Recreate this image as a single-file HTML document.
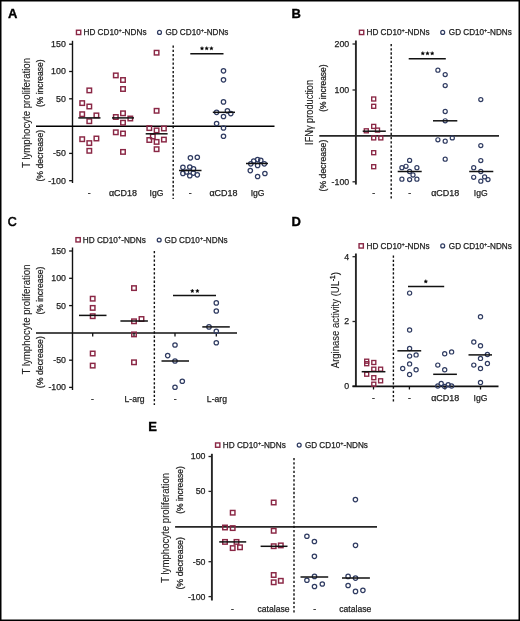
<!DOCTYPE html>
<html><head><meta charset="utf-8"><title>Figure</title>
<style>
html,body{margin:0;padding:0;background:#fff;}
body{width:520px;height:621px;overflow:hidden;}
svg{display:block;font-family:"Liberation Sans", sans-serif;will-change:transform;}
</style></head>
<body>
<svg width="520" height="621" viewBox="0 0 520 621">
<rect width="520" height="621" fill="#fff"/>
<rect x="0.75" y="0.75" width="518.5" height="619.5" fill="none" stroke="#000" stroke-width="1.5"/>
<text x="8" y="18.4" font-size="13" font-weight="bold" fill="#000" stroke="#000" stroke-width="0.35" >A</text>
<rect x="76.45" y="30.25" width="4.3" height="4.3" fill="none" stroke="#8a2745" stroke-width="1.4"/>
<text x="83.5" y="35.2" font-size="8.2" textLength="63" lengthAdjust="spacingAndGlyphs" fill="#222" stroke="#222" stroke-width="0.25" >HD CD10<tspan font-size="5.6" dy="-3.2">+</tspan><tspan dy="3.2">-NDNs</tspan></text>
<circle cx="159.5" cy="32.4" r="1.95" fill="none" stroke="#303c62" stroke-width="1.25"/>
<text x="165.4" y="35.2" font-size="8.2" textLength="63" lengthAdjust="spacingAndGlyphs" fill="#222" stroke="#222" stroke-width="0.25" >GD CD10<tspan font-size="5.6" dy="-3.2">+</tspan><tspan dy="3.2">-NDNs</tspan></text>
<line x1="72.5" y1="40.8" x2="72.5" y2="183" stroke="#111" stroke-width="1.4" />
<line x1="69.1" y1="44.2" x2="72.5" y2="44.2" stroke="#111" stroke-width="1.3" />
<text x="65.8" y="47.1" font-size="8.8" text-anchor="end" fill="#222" stroke="#222" stroke-width="0.25" >150</text>
<line x1="69.1" y1="71.5" x2="72.5" y2="71.5" stroke="#111" stroke-width="1.3" />
<text x="65.8" y="74.4" font-size="8.8" text-anchor="end" fill="#222" stroke="#222" stroke-width="0.25" >100</text>
<line x1="69.1" y1="98.8" x2="72.5" y2="98.8" stroke="#111" stroke-width="1.3" />
<text x="65.8" y="101.7" font-size="8.8" text-anchor="end" fill="#222" stroke="#222" stroke-width="0.25" >50</text>
<line x1="69.1" y1="153.4" x2="72.5" y2="153.4" stroke="#111" stroke-width="1.3" />
<text x="65.8" y="156.3" font-size="8.8" text-anchor="end" fill="#222" stroke="#222" stroke-width="0.25" >-50</text>
<line x1="69.1" y1="180.7" x2="72.5" y2="180.7" stroke="#111" stroke-width="1.3" />
<text x="65.8" y="183.6" font-size="8.8" text-anchor="end" fill="#222" stroke="#222" stroke-width="0.25" >-100</text>
<line x1="36" y1="126.25" x2="274.5" y2="126.25" stroke="#000" stroke-width="1.4" />
<line x1="173.2" y1="45.5" x2="173.2" y2="199" stroke="#111" stroke-width="1.4" stroke-dasharray="2.3 1.93"/>
<rect x="87.05" y="88.15" width="4.5" height="4.5" fill="none" stroke="#8a2745" stroke-width="1.45"/>
<rect x="79.95" y="100.85" width="4.5" height="4.5" fill="none" stroke="#8a2745" stroke-width="1.45"/>
<rect x="87.05" y="104.25" width="4.5" height="4.5" fill="none" stroke="#8a2745" stroke-width="1.45"/>
<rect x="79.95" y="111.95" width="4.5" height="4.5" fill="none" stroke="#8a2745" stroke-width="1.45"/>
<rect x="94.15" y="113.15" width="4.5" height="4.5" fill="none" stroke="#8a2745" stroke-width="1.45"/>
<rect x="87.05" y="118.95" width="4.5" height="4.5" fill="none" stroke="#8a2745" stroke-width="1.45"/>
<rect x="79.95" y="136.95" width="4.5" height="4.5" fill="none" stroke="#8a2745" stroke-width="1.45"/>
<rect x="94.15" y="136.25" width="4.5" height="4.5" fill="none" stroke="#8a2745" stroke-width="1.45"/>
<rect x="87.05" y="140.85" width="4.5" height="4.5" fill="none" stroke="#8a2745" stroke-width="1.45"/>
<rect x="87.05" y="148.55" width="4.5" height="4.5" fill="none" stroke="#8a2745" stroke-width="1.45"/>
<rect x="113.55" y="73.15" width="4.5" height="4.5" fill="none" stroke="#8a2745" stroke-width="1.45"/>
<rect x="120.75" y="77.75" width="4.5" height="4.5" fill="none" stroke="#8a2745" stroke-width="1.45"/>
<rect x="120.75" y="86.75" width="4.5" height="4.5" fill="none" stroke="#8a2745" stroke-width="1.45"/>
<rect x="120.75" y="111.05" width="4.5" height="4.5" fill="none" stroke="#8a2745" stroke-width="1.45"/>
<rect x="113.55" y="114.75" width="4.5" height="4.5" fill="none" stroke="#8a2745" stroke-width="1.45"/>
<rect x="128.05" y="116.25" width="4.5" height="4.5" fill="none" stroke="#8a2745" stroke-width="1.45"/>
<rect x="120.75" y="120.45" width="4.5" height="4.5" fill="none" stroke="#8a2745" stroke-width="1.45"/>
<rect x="113.55" y="130.05" width="4.5" height="4.5" fill="none" stroke="#8a2745" stroke-width="1.45"/>
<rect x="120.75" y="131.25" width="4.5" height="4.5" fill="none" stroke="#8a2745" stroke-width="1.45"/>
<rect x="120.75" y="149.65" width="4.5" height="4.5" fill="none" stroke="#8a2745" stroke-width="1.45"/>
<rect x="154.35" y="50.45" width="4.5" height="4.5" fill="none" stroke="#8a2745" stroke-width="1.45"/>
<rect x="154.35" y="108.55" width="4.5" height="4.5" fill="none" stroke="#8a2745" stroke-width="1.45"/>
<rect x="147.05" y="125.85" width="4.5" height="4.5" fill="none" stroke="#8a2745" stroke-width="1.45"/>
<rect x="154.35" y="128.15" width="4.5" height="4.5" fill="none" stroke="#8a2745" stroke-width="1.45"/>
<rect x="161.65" y="126.25" width="4.5" height="4.5" fill="none" stroke="#8a2745" stroke-width="1.45"/>
<rect x="150.55" y="134.25" width="4.5" height="4.5" fill="none" stroke="#8a2745" stroke-width="1.45"/>
<rect x="147.05" y="137.75" width="4.5" height="4.5" fill="none" stroke="#8a2745" stroke-width="1.45"/>
<rect x="154.35" y="139.65" width="4.5" height="4.5" fill="none" stroke="#8a2745" stroke-width="1.45"/>
<rect x="161.65" y="137.35" width="4.5" height="4.5" fill="none" stroke="#8a2745" stroke-width="1.45"/>
<rect x="154.35" y="146.95" width="4.5" height="4.5" fill="none" stroke="#8a2745" stroke-width="1.45"/>
<circle cx="190.4" cy="157.8" r="2.2" fill="none" stroke="#303c62" stroke-width="1.25"/>
<circle cx="197.3" cy="157.2" r="2.2" fill="none" stroke="#303c62" stroke-width="1.25"/>
<circle cx="182.9" cy="167.3" r="2.2" fill="none" stroke="#303c62" stroke-width="1.25"/>
<circle cx="189.8" cy="167" r="2.2" fill="none" stroke="#303c62" stroke-width="1.25"/>
<circle cx="193.5" cy="168.8" r="2.2" fill="none" stroke="#303c62" stroke-width="1.25"/>
<circle cx="182.9" cy="173.4" r="2.2" fill="none" stroke="#303c62" stroke-width="1.25"/>
<circle cx="189.8" cy="175.7" r="2.2" fill="none" stroke="#303c62" stroke-width="1.25"/>
<circle cx="193.3" cy="173.1" r="2.2" fill="none" stroke="#303c62" stroke-width="1.25"/>
<circle cx="197.3" cy="174.8" r="2.2" fill="none" stroke="#303c62" stroke-width="1.25"/>
<circle cx="186.5" cy="172" r="2.2" fill="none" stroke="#303c62" stroke-width="1.25"/>
<circle cx="223.5" cy="70.8" r="2.2" fill="none" stroke="#303c62" stroke-width="1.25"/>
<circle cx="223.5" cy="79.8" r="2.2" fill="none" stroke="#303c62" stroke-width="1.25"/>
<circle cx="223.5" cy="101.9" r="2.2" fill="none" stroke="#303c62" stroke-width="1.25"/>
<circle cx="216.6" cy="112.3" r="2.2" fill="none" stroke="#303c62" stroke-width="1.25"/>
<circle cx="227.4" cy="110.8" r="2.2" fill="none" stroke="#303c62" stroke-width="1.25"/>
<circle cx="230.8" cy="113.6" r="2.2" fill="none" stroke="#303c62" stroke-width="1.25"/>
<circle cx="223.5" cy="116.5" r="2.2" fill="none" stroke="#303c62" stroke-width="1.25"/>
<circle cx="216.6" cy="123.5" r="2.2" fill="none" stroke="#303c62" stroke-width="1.25"/>
<circle cx="223.5" cy="128" r="2.2" fill="none" stroke="#303c62" stroke-width="1.25"/>
<circle cx="223.5" cy="136.2" r="2.2" fill="none" stroke="#303c62" stroke-width="1.25"/>
<circle cx="257.6" cy="159.6" r="2.2" fill="none" stroke="#303c62" stroke-width="1.25"/>
<circle cx="253.7" cy="161" r="2.2" fill="none" stroke="#303c62" stroke-width="1.25"/>
<circle cx="260.8" cy="160.4" r="2.2" fill="none" stroke="#303c62" stroke-width="1.25"/>
<circle cx="250.8" cy="163.8" r="2.2" fill="none" stroke="#303c62" stroke-width="1.25"/>
<circle cx="257.6" cy="165.4" r="2.2" fill="none" stroke="#303c62" stroke-width="1.25"/>
<circle cx="264.3" cy="163.8" r="2.2" fill="none" stroke="#303c62" stroke-width="1.25"/>
<circle cx="250.3" cy="170.6" r="2.2" fill="none" stroke="#303c62" stroke-width="1.25"/>
<circle cx="264.9" cy="173.5" r="2.2" fill="none" stroke="#303c62" stroke-width="1.25"/>
<circle cx="257.6" cy="176.5" r="2.2" fill="none" stroke="#303c62" stroke-width="1.25"/>
<line x1="78.3" y1="117.9" x2="100.5" y2="117.9" stroke="#111" stroke-width="1.5" />
<line x1="112" y1="117.9" x2="134" y2="117.9" stroke="#111" stroke-width="1.5" />
<line x1="145.7" y1="133.8" x2="167.6" y2="133.8" stroke="#111" stroke-width="1.5" />
<line x1="179" y1="170.5" x2="201.5" y2="170.5" stroke="#111" stroke-width="1.5" />
<line x1="212.8" y1="112.3" x2="235" y2="112.3" stroke="#111" stroke-width="1.5" />
<line x1="246" y1="163.5" x2="268" y2="163.5" stroke="#111" stroke-width="1.5" />
<line x1="190.3" y1="53.8" x2="223.5" y2="53.8" stroke="#111" stroke-width="1.5" />
<polygon points="202,46.5 202.56,47.63 203.81,47.81 202.9,48.69 203.12,49.94 202,49.35 200.88,49.94 201.1,48.69 200.19,47.81 201.44,47.63" fill="#000" stroke="#000" stroke-width="0.35" stroke-linejoin="round"/>
<polygon points="206.7,46.5 207.26,47.63 208.51,47.81 207.6,48.69 207.82,49.94 206.7,49.35 205.58,49.94 205.8,48.69 204.89,47.81 206.14,47.63" fill="#000" stroke="#000" stroke-width="0.35" stroke-linejoin="round"/>
<polygon points="211.4,46.5 211.96,47.63 213.21,47.81 212.3,48.69 212.52,49.94 211.4,49.35 210.28,49.94 210.5,48.69 209.59,47.81 210.84,47.63" fill="#000" stroke="#000" stroke-width="0.35" stroke-linejoin="round"/>
<text x="29.9" y="113" font-size="11.4" text-anchor="middle" textLength="110" lengthAdjust="spacingAndGlyphs" transform="rotate(-90 29.9 113)" fill="#222" stroke="#222" stroke-width="0.12" >T lymphocyte proliferation</text>
<text x="43.3" y="83.2" font-size="8.6" text-anchor="middle" textLength="47.7" lengthAdjust="spacingAndGlyphs" transform="rotate(-90 43.3 83.2)" fill="#222" stroke="#222" stroke-width="0.25" >(% increase)</text>
<text x="43.3" y="155.7" font-size="8.6" text-anchor="middle" textLength="51.8" lengthAdjust="spacingAndGlyphs" transform="rotate(-90 43.3 155.7)" fill="#222" stroke="#222" stroke-width="0.25" >(% decrease)</text>
<text x="89.3" y="196.3" font-size="8.6" text-anchor="middle" fill="#222" stroke="#222" stroke-width="0.25" >-</text>
<text x="123" y="196.3" font-size="8.6" text-anchor="middle" textLength="28.1" lengthAdjust="spacingAndGlyphs" fill="#222" stroke="#222" stroke-width="0.25" >&#945;CD18</text>
<text x="156.5" y="196.3" font-size="8.6" text-anchor="middle" fill="#222" stroke="#222" stroke-width="0.25" >IgG</text>
<text x="190.3" y="196.3" font-size="8.6" text-anchor="middle" fill="#222" stroke="#222" stroke-width="0.25" >-</text>
<text x="223.5" y="196.3" font-size="8.6" text-anchor="middle" textLength="28.1" lengthAdjust="spacingAndGlyphs" fill="#222" stroke="#222" stroke-width="0.25" >&#945;CD18</text>
<text x="257.6" y="196.3" font-size="8.6" text-anchor="middle" fill="#222" stroke="#222" stroke-width="0.25" >IgG</text>
<text x="291.6" y="18.4" font-size="13" font-weight="bold" fill="#000" stroke="#000" stroke-width="0.35" >B</text>
<rect x="359.45" y="30.25" width="4.3" height="4.3" fill="none" stroke="#8a2745" stroke-width="1.4"/>
<text x="366.5" y="35.2" font-size="8.2" textLength="63" lengthAdjust="spacingAndGlyphs" fill="#222" stroke="#222" stroke-width="0.25" >HD CD10<tspan font-size="5.6" dy="-3.2">+</tspan><tspan dy="3.2">-NDNs</tspan></text>
<circle cx="442.7" cy="32.4" r="1.95" fill="none" stroke="#303c62" stroke-width="1.25"/>
<text x="448.8" y="35.2" font-size="8.2" textLength="63" lengthAdjust="spacingAndGlyphs" fill="#222" stroke="#222" stroke-width="0.25" >GD CD10<tspan font-size="5.6" dy="-3.2">+</tspan><tspan dy="3.2">-NDNs</tspan></text>
<line x1="355.9" y1="40.5" x2="355.9" y2="184.6" stroke="#262626" stroke-width="1.9" />
<line x1="352.5" y1="44" x2="355.9" y2="44" stroke="#262626" stroke-width="1.3" />
<text x="349.2" y="46.9" font-size="8.8" text-anchor="end" fill="#222" stroke="#222" stroke-width="0.25" >200</text>
<line x1="352.5" y1="90" x2="355.9" y2="90" stroke="#262626" stroke-width="1.3" />
<text x="349.2" y="92.9" font-size="8.8" text-anchor="end" fill="#222" stroke="#222" stroke-width="0.25" >100</text>
<line x1="352.5" y1="181.8" x2="355.9" y2="181.8" stroke="#262626" stroke-width="1.3" />
<text x="349.2" y="184.7" font-size="8.8" text-anchor="end" fill="#222" stroke="#222" stroke-width="0.25" >-100</text>
<line x1="319.3" y1="135.85" x2="499" y2="135.85" stroke="#262626" stroke-width="1.9" />
<line x1="391.2" y1="43.9" x2="391.2" y2="199" stroke="#111" stroke-width="1.4" stroke-dasharray="2.3 1.93"/>
<rect x="371.7" y="97" width="4" height="4" fill="none" stroke="#8a2745" stroke-width="1.35"/>
<rect x="371.7" y="104.3" width="4" height="4" fill="none" stroke="#8a2745" stroke-width="1.35"/>
<rect x="371.7" y="124.4" width="4" height="4" fill="none" stroke="#8a2745" stroke-width="1.35"/>
<rect x="364.3" y="128.8" width="4" height="4" fill="none" stroke="#8a2745" stroke-width="1.35"/>
<rect x="375.5" y="128.1" width="4" height="4" fill="none" stroke="#8a2745" stroke-width="1.35"/>
<rect x="371.7" y="135.9" width="4" height="4" fill="none" stroke="#8a2745" stroke-width="1.35"/>
<rect x="378.8" y="135.9" width="4" height="4" fill="none" stroke="#8a2745" stroke-width="1.35"/>
<rect x="371.7" y="150.7" width="4" height="4" fill="none" stroke="#8a2745" stroke-width="1.35"/>
<rect x="371.7" y="164.7" width="4" height="4" fill="none" stroke="#8a2745" stroke-width="1.35"/>
<circle cx="409.6" cy="160.4" r="2.05" fill="none" stroke="#303c62" stroke-width="1.2"/>
<circle cx="406" cy="166.3" r="2.05" fill="none" stroke="#303c62" stroke-width="1.2"/>
<circle cx="401.9" cy="167.7" r="2.05" fill="none" stroke="#303c62" stroke-width="1.2"/>
<circle cx="416.9" cy="167.7" r="2.05" fill="none" stroke="#303c62" stroke-width="1.2"/>
<circle cx="409.6" cy="171.5" r="2.05" fill="none" stroke="#303c62" stroke-width="1.2"/>
<circle cx="413" cy="175" r="2.05" fill="none" stroke="#303c62" stroke-width="1.2"/>
<circle cx="401.9" cy="179.2" r="2.05" fill="none" stroke="#303c62" stroke-width="1.2"/>
<circle cx="409.6" cy="179.6" r="2.05" fill="none" stroke="#303c62" stroke-width="1.2"/>
<circle cx="416.9" cy="179.2" r="2.05" fill="none" stroke="#303c62" stroke-width="1.2"/>
<circle cx="437.9" cy="70.2" r="2.05" fill="none" stroke="#303c62" stroke-width="1.2"/>
<circle cx="445.2" cy="74.6" r="2.05" fill="none" stroke="#303c62" stroke-width="1.2"/>
<circle cx="445.2" cy="85.6" r="2.05" fill="none" stroke="#303c62" stroke-width="1.2"/>
<circle cx="445.2" cy="111.5" r="2.05" fill="none" stroke="#303c62" stroke-width="1.2"/>
<circle cx="445.2" cy="120.8" r="2.05" fill="none" stroke="#303c62" stroke-width="1.2"/>
<circle cx="437.9" cy="139.8" r="2.05" fill="none" stroke="#303c62" stroke-width="1.2"/>
<circle cx="445.2" cy="141.2" r="2.05" fill="none" stroke="#303c62" stroke-width="1.2"/>
<circle cx="452.3" cy="137.9" r="2.05" fill="none" stroke="#303c62" stroke-width="1.2"/>
<circle cx="445.2" cy="159.2" r="2.05" fill="none" stroke="#303c62" stroke-width="1.2"/>
<circle cx="480.8" cy="99.6" r="2.05" fill="none" stroke="#303c62" stroke-width="1.2"/>
<circle cx="480.8" cy="145.6" r="2.05" fill="none" stroke="#303c62" stroke-width="1.2"/>
<circle cx="480.8" cy="160.6" r="2.05" fill="none" stroke="#303c62" stroke-width="1.2"/>
<circle cx="473.7" cy="167.7" r="2.05" fill="none" stroke="#303c62" stroke-width="1.2"/>
<circle cx="480.8" cy="171.5" r="2.05" fill="none" stroke="#303c62" stroke-width="1.2"/>
<circle cx="473.7" cy="177.3" r="2.05" fill="none" stroke="#303c62" stroke-width="1.2"/>
<circle cx="484.6" cy="176.9" r="2.05" fill="none" stroke="#303c62" stroke-width="1.2"/>
<circle cx="488" cy="179.6" r="2.05" fill="none" stroke="#303c62" stroke-width="1.2"/>
<circle cx="480.8" cy="181.2" r="2.05" fill="none" stroke="#303c62" stroke-width="1.2"/>
<line x1="362.7" y1="131.2" x2="385.8" y2="131.2" stroke="#111" stroke-width="1.5" />
<line x1="397.7" y1="171.5" x2="421.7" y2="171.5" stroke="#111" stroke-width="1.5" />
<line x1="433" y1="120.8" x2="457.3" y2="120.8" stroke="#111" stroke-width="1.5" />
<line x1="469.2" y1="171.5" x2="493.3" y2="171.5" stroke="#111" stroke-width="1.5" />
<line x1="408.7" y1="58.7" x2="445.8" y2="58.7" stroke="#111" stroke-width="1.5" />
<polygon points="422.8,51.5 423.36,52.63 424.61,52.81 423.7,53.69 423.92,54.94 422.8,54.35 421.68,54.94 421.9,53.69 420.99,52.81 422.24,52.63" fill="#000" stroke="#000" stroke-width="0.35" stroke-linejoin="round"/>
<polygon points="427.5,51.5 428.06,52.63 429.31,52.81 428.4,53.69 428.62,54.94 427.5,54.35 426.38,54.94 426.6,53.69 425.69,52.81 426.94,52.63" fill="#000" stroke="#000" stroke-width="0.35" stroke-linejoin="round"/>
<polygon points="432.2,51.5 432.76,52.63 434.01,52.81 433.1,53.69 433.32,54.94 432.2,54.35 431.08,54.94 431.3,53.69 430.39,52.81 431.64,52.63" fill="#000" stroke="#000" stroke-width="0.35" stroke-linejoin="round"/>
<text x="312.7" y="112.4" font-size="10.6" text-anchor="middle" textLength="65" lengthAdjust="spacingAndGlyphs" transform="rotate(-90 312.7 112.4)" fill="#222" stroke="#222" stroke-width="0.12" >IFN&#947; production</text>
<text x="326.5" y="88.1" font-size="8.6" text-anchor="middle" textLength="47.4" lengthAdjust="spacingAndGlyphs" transform="rotate(-90 326.5 88.1)" fill="#222" stroke="#222" stroke-width="0.25" >(% increase)</text>
<text x="326.5" y="165.6" font-size="8.6" text-anchor="middle" textLength="51.8" lengthAdjust="spacingAndGlyphs" transform="rotate(-90 326.5 165.6)" fill="#222" stroke="#222" stroke-width="0.25" >(% decrease)</text>
<text x="373.7" y="196" font-size="8.6" text-anchor="middle" fill="#222" stroke="#222" stroke-width="0.25" >-</text>
<text x="409.6" y="196" font-size="8.6" text-anchor="middle" fill="#222" stroke="#222" stroke-width="0.25" >-</text>
<text x="445.2" y="196" font-size="8.6" text-anchor="middle" textLength="28.1" lengthAdjust="spacingAndGlyphs" fill="#222" stroke="#222" stroke-width="0.25" >&#945;CD18</text>
<text x="480.8" y="196" font-size="8.6" text-anchor="middle" fill="#222" stroke="#222" stroke-width="0.25" >IgG</text>
<text x="7.7" y="226.3" font-size="13.2" textLength="9" lengthAdjust="spacingAndGlyphs" fill="#000" stroke="#000" stroke-width="0.6" >C</text>
<rect x="75.95" y="237.65" width="4.3" height="4.3" fill="none" stroke="#8a2745" stroke-width="1.4"/>
<text x="82.8" y="242.6" font-size="8.2" textLength="63" lengthAdjust="spacingAndGlyphs" fill="#222" stroke="#222" stroke-width="0.25" >HD CD10<tspan font-size="5.6" dy="-3.2">+</tspan><tspan dy="3.2">-NDNs</tspan></text>
<circle cx="159.2" cy="240" r="1.95" fill="none" stroke="#303c62" stroke-width="1.25"/>
<text x="164.6" y="242.8" font-size="8.2" textLength="63" lengthAdjust="spacingAndGlyphs" fill="#222" stroke="#222" stroke-width="0.25" >GD CD10<tspan font-size="5.6" dy="-3.2">+</tspan><tspan dy="3.2">-NDNs</tspan></text>
<line x1="72.5" y1="247.5" x2="72.5" y2="390" stroke="#111" stroke-width="1.4" />
<line x1="69.1" y1="251" x2="72.5" y2="251" stroke="#111" stroke-width="1.3" />
<text x="66" y="253.9" font-size="8.8" text-anchor="end" fill="#222" stroke="#222" stroke-width="0.25" >150</text>
<line x1="69.1" y1="278.3" x2="72.5" y2="278.3" stroke="#111" stroke-width="1.3" />
<text x="66" y="281.2" font-size="8.8" text-anchor="end" fill="#222" stroke="#222" stroke-width="0.25" >100</text>
<line x1="69.1" y1="305.6" x2="72.5" y2="305.6" stroke="#111" stroke-width="1.3" />
<text x="66" y="308.5" font-size="8.8" text-anchor="end" fill="#222" stroke="#222" stroke-width="0.25" >50</text>
<line x1="69.1" y1="360.2" x2="72.5" y2="360.2" stroke="#111" stroke-width="1.3" />
<text x="66" y="363.1" font-size="8.8" text-anchor="end" fill="#222" stroke="#222" stroke-width="0.25" >-50</text>
<line x1="69.1" y1="387.4" x2="72.5" y2="387.4" stroke="#111" stroke-width="1.3" />
<text x="66" y="390.3" font-size="8.8" text-anchor="end" fill="#222" stroke="#222" stroke-width="0.25" >-100</text>
<line x1="36" y1="333" x2="237" y2="333" stroke="#111" stroke-width="1.6" />
<line x1="92.7" y1="333" x2="92.7" y2="336.6" stroke="#111" stroke-width="1.3" />
<line x1="134" y1="333" x2="134" y2="336.6" stroke="#111" stroke-width="1.3" />
<line x1="175" y1="333" x2="175" y2="336.6" stroke="#111" stroke-width="1.3" />
<line x1="216.3" y1="333" x2="216.3" y2="336.6" stroke="#111" stroke-width="1.3" />
<line x1="154.35" y1="251" x2="154.35" y2="405" stroke="#111" stroke-width="1.4" stroke-dasharray="2.3 1.93"/>
<rect x="90.45" y="296.45" width="4.5" height="4.5" fill="none" stroke="#8a2745" stroke-width="1.45"/>
<rect x="90.45" y="305.65" width="4.5" height="4.5" fill="none" stroke="#8a2745" stroke-width="1.45"/>
<rect x="90.45" y="313.95" width="4.5" height="4.5" fill="none" stroke="#8a2745" stroke-width="1.45"/>
<rect x="90.45" y="351.25" width="4.5" height="4.5" fill="none" stroke="#8a2745" stroke-width="1.45"/>
<rect x="90.45" y="363.35" width="4.5" height="4.5" fill="none" stroke="#8a2745" stroke-width="1.45"/>
<rect x="131.75" y="285.85" width="4.5" height="4.5" fill="none" stroke="#8a2745" stroke-width="1.45"/>
<rect x="131.75" y="319.05" width="4.5" height="4.5" fill="none" stroke="#8a2745" stroke-width="1.45"/>
<rect x="139.25" y="316.75" width="4.5" height="4.5" fill="none" stroke="#8a2745" stroke-width="1.45"/>
<rect x="131.75" y="332.15" width="4.5" height="4.5" fill="none" stroke="#8a2745" stroke-width="1.45"/>
<rect x="131.75" y="360.05" width="4.5" height="4.5" fill="none" stroke="#8a2745" stroke-width="1.45"/>
<circle cx="175" cy="345" r="2.2" fill="none" stroke="#303c62" stroke-width="1.25"/>
<circle cx="167.7" cy="355.6" r="2.2" fill="none" stroke="#303c62" stroke-width="1.25"/>
<circle cx="175" cy="361" r="2.2" fill="none" stroke="#303c62" stroke-width="1.25"/>
<circle cx="182.3" cy="381.2" r="2.2" fill="none" stroke="#303c62" stroke-width="1.25"/>
<circle cx="175" cy="387.3" r="2.2" fill="none" stroke="#303c62" stroke-width="1.25"/>
<circle cx="216.3" cy="302.9" r="2.2" fill="none" stroke="#303c62" stroke-width="1.25"/>
<circle cx="216.3" cy="311" r="2.2" fill="none" stroke="#303c62" stroke-width="1.25"/>
<circle cx="209" cy="326.9" r="2.2" fill="none" stroke="#303c62" stroke-width="1.25"/>
<circle cx="216.3" cy="331.2" r="2.2" fill="none" stroke="#303c62" stroke-width="1.25"/>
<circle cx="216.3" cy="342.7" r="2.2" fill="none" stroke="#303c62" stroke-width="1.25"/>
<line x1="79" y1="315.4" x2="106.5" y2="315.4" stroke="#111" stroke-width="1.5" />
<line x1="120.4" y1="321" x2="147.9" y2="321" stroke="#111" stroke-width="1.5" />
<line x1="161.5" y1="361" x2="189" y2="361" stroke="#111" stroke-width="1.5" />
<line x1="202.3" y1="326.9" x2="229.8" y2="326.9" stroke="#111" stroke-width="1.5" />
<line x1="173" y1="295.6" x2="216" y2="295.6" stroke="#111" stroke-width="1.5" />
<polygon points="192.3,289.1 192.86,290.23 194.11,290.41 193.2,291.29 193.42,292.54 192.3,291.95 191.18,292.54 191.4,291.29 190.49,290.41 191.74,290.23" fill="#000" stroke="#000" stroke-width="0.35" stroke-linejoin="round"/>
<polygon points="197.4,289.1 197.96,290.23 199.21,290.41 198.3,291.29 198.52,292.54 197.4,291.95 196.28,292.54 196.5,291.29 195.59,290.41 196.84,290.23" fill="#000" stroke="#000" stroke-width="0.35" stroke-linejoin="round"/>
<text x="29.6" y="319.5" font-size="11.4" text-anchor="middle" textLength="110" lengthAdjust="spacingAndGlyphs" transform="rotate(-90 29.6 319.5)" fill="#222" stroke="#222" stroke-width="0.12" >T lymphocyte proliferation</text>
<text x="43.1" y="290.6" font-size="8.6" text-anchor="middle" textLength="48" lengthAdjust="spacingAndGlyphs" transform="rotate(-90 43.1 290.6)" fill="#222" stroke="#222" stroke-width="0.25" >(% increase)</text>
<text x="43.1" y="362.2" font-size="8.6" text-anchor="middle" textLength="52" lengthAdjust="spacingAndGlyphs" transform="rotate(-90 43.1 362.2)" fill="#222" stroke="#222" stroke-width="0.25" >(% decrease)</text>
<text x="92.5" y="401.9" font-size="8.6" text-anchor="middle" fill="#222" stroke="#222" stroke-width="0.25" >-</text>
<text x="134.6" y="401.9" font-size="8.6" text-anchor="middle" fill="#222" stroke="#222" stroke-width="0.25" >L-arg</text>
<text x="175.2" y="401.9" font-size="8.6" text-anchor="middle" fill="#222" stroke="#222" stroke-width="0.25" >-</text>
<text x="216.9" y="401.9" font-size="8.6" text-anchor="middle" fill="#222" stroke="#222" stroke-width="0.25" >L-arg</text>
<text x="291.6" y="226.3" font-size="13" font-weight="bold" fill="#000" stroke="#000" stroke-width="0.35" >D</text>
<rect x="359.05" y="243.75" width="4.3" height="4.3" fill="none" stroke="#8a2745" stroke-width="1.4"/>
<text x="366.5" y="248.7" font-size="8.2" textLength="63" lengthAdjust="spacingAndGlyphs" fill="#222" stroke="#222" stroke-width="0.25" >HD CD10<tspan font-size="5.6" dy="-3.2">+</tspan><tspan dy="3.2">-NDNs</tspan></text>
<circle cx="442.7" cy="245.9" r="1.95" fill="none" stroke="#303c62" stroke-width="1.25"/>
<text x="448.8" y="248.7" font-size="8.2" textLength="63" lengthAdjust="spacingAndGlyphs" fill="#222" stroke="#222" stroke-width="0.25" >GD CD10<tspan font-size="5.6" dy="-3.2">+</tspan><tspan dy="3.2">-NDNs</tspan></text>
<line x1="355.9" y1="253.5" x2="355.9" y2="386.2" stroke="#262626" stroke-width="1.9" />
<line x1="352.5" y1="256.7" x2="355.9" y2="256.7" stroke="#262626" stroke-width="1.3" />
<text x="349.2" y="259.6" font-size="8.8" text-anchor="end" fill="#222" stroke="#222" stroke-width="0.25" >4</text>
<line x1="352.5" y1="321.5" x2="355.9" y2="321.5" stroke="#262626" stroke-width="1.3" />
<text x="349.2" y="324.4" font-size="8.8" text-anchor="end" fill="#222" stroke="#222" stroke-width="0.25" >2</text>
<line x1="352.5" y1="386.2" x2="355.9" y2="386.2" stroke="#262626" stroke-width="1.3" />
<text x="349.2" y="389.1" font-size="8.8" text-anchor="end" fill="#222" stroke="#222" stroke-width="0.25" >0</text>
<line x1="352.5" y1="386.4" x2="498.5" y2="386.4" stroke="#111" stroke-width="1.7" />
<line x1="373.5" y1="386.2" x2="373.5" y2="389.5" stroke="#111" stroke-width="1.3" />
<line x1="409.4" y1="386.2" x2="409.4" y2="389.5" stroke="#111" stroke-width="1.3" />
<line x1="445" y1="386.2" x2="445" y2="389.5" stroke="#111" stroke-width="1.3" />
<line x1="480.5" y1="386.2" x2="480.5" y2="389.5" stroke="#111" stroke-width="1.3" />
<line x1="393.4" y1="255.4" x2="393.4" y2="402.5" stroke="#111" stroke-width="1.4" stroke-dasharray="2.3 1.93"/>
<rect x="364.7" y="359.2" width="4" height="4" fill="none" stroke="#8a2745" stroke-width="1.35"/>
<rect x="371.8" y="360.5" width="4" height="4" fill="none" stroke="#8a2745" stroke-width="1.35"/>
<rect x="364.7" y="361.7" width="4" height="4" fill="none" stroke="#8a2745" stroke-width="1.35"/>
<rect x="371.8" y="367.2" width="4" height="4" fill="none" stroke="#8a2745" stroke-width="1.35"/>
<rect x="378.6" y="367.2" width="4" height="4" fill="none" stroke="#8a2745" stroke-width="1.35"/>
<rect x="364.7" y="372.2" width="4" height="4" fill="none" stroke="#8a2745" stroke-width="1.35"/>
<rect x="371.8" y="375.7" width="4" height="4" fill="none" stroke="#8a2745" stroke-width="1.35"/>
<rect x="378.6" y="378.8" width="4" height="4" fill="none" stroke="#8a2745" stroke-width="1.35"/>
<rect x="371.8" y="382.2" width="4" height="4" fill="none" stroke="#8a2745" stroke-width="1.35"/>
<circle cx="409.6" cy="293.1" r="2.1" fill="none" stroke="#303c62" stroke-width="1.2"/>
<circle cx="409.6" cy="330" r="2.1" fill="none" stroke="#303c62" stroke-width="1.2"/>
<circle cx="409.6" cy="348.5" r="2.1" fill="none" stroke="#303c62" stroke-width="1.2"/>
<circle cx="409.6" cy="356.1" r="2.1" fill="none" stroke="#303c62" stroke-width="1.2"/>
<circle cx="416.1" cy="354.9" r="2.1" fill="none" stroke="#303c62" stroke-width="1.2"/>
<circle cx="409.6" cy="363.9" r="2.1" fill="none" stroke="#303c62" stroke-width="1.2"/>
<circle cx="402.7" cy="368.5" r="2.1" fill="none" stroke="#303c62" stroke-width="1.2"/>
<circle cx="416.1" cy="369.7" r="2.1" fill="none" stroke="#303c62" stroke-width="1.2"/>
<circle cx="409.6" cy="374.5" r="2.1" fill="none" stroke="#303c62" stroke-width="1.2"/>
<circle cx="444.7" cy="353.8" r="2.1" fill="none" stroke="#303c62" stroke-width="1.2"/>
<circle cx="451.6" cy="351.9" r="2.1" fill="none" stroke="#303c62" stroke-width="1.2"/>
<circle cx="437.8" cy="365.1" r="2.1" fill="none" stroke="#303c62" stroke-width="1.2"/>
<circle cx="444.7" cy="369.7" r="2.1" fill="none" stroke="#303c62" stroke-width="1.2"/>
<circle cx="441.2" cy="383.5" r="2.1" fill="none" stroke="#303c62" stroke-width="1.2"/>
<circle cx="448.2" cy="384.7" r="2.1" fill="none" stroke="#303c62" stroke-width="1.2"/>
<circle cx="437.8" cy="386" r="2.1" fill="none" stroke="#303c62" stroke-width="1.2"/>
<circle cx="451.6" cy="386" r="2.1" fill="none" stroke="#303c62" stroke-width="1.2"/>
<circle cx="444.7" cy="386.5" r="2.1" fill="none" stroke="#303c62" stroke-width="1.2"/>
<circle cx="480.5" cy="316.8" r="2.1" fill="none" stroke="#303c62" stroke-width="1.2"/>
<circle cx="473.8" cy="342" r="2.1" fill="none" stroke="#303c62" stroke-width="1.2"/>
<circle cx="480.5" cy="345.7" r="2.1" fill="none" stroke="#303c62" stroke-width="1.2"/>
<circle cx="487.4" cy="354.5" r="2.1" fill="none" stroke="#303c62" stroke-width="1.2"/>
<circle cx="480.5" cy="358.4" r="2.1" fill="none" stroke="#303c62" stroke-width="1.2"/>
<circle cx="473.8" cy="365.1" r="2.1" fill="none" stroke="#303c62" stroke-width="1.2"/>
<circle cx="487.4" cy="363.5" r="2.1" fill="none" stroke="#303c62" stroke-width="1.2"/>
<circle cx="480.5" cy="368.5" r="2.1" fill="none" stroke="#303c62" stroke-width="1.2"/>
<circle cx="480.5" cy="382.4" r="2.1" fill="none" stroke="#303c62" stroke-width="1.2"/>
<line x1="361.7" y1="371.7" x2="385.4" y2="371.7" stroke="#111" stroke-width="1.5" />
<line x1="397.4" y1="350.8" x2="421.2" y2="350.8" stroke="#111" stroke-width="1.5" />
<line x1="433.2" y1="374.3" x2="456.9" y2="374.3" stroke="#111" stroke-width="1.5" />
<line x1="468.5" y1="354.9" x2="492" y2="354.9" stroke="#111" stroke-width="1.5" />
<line x1="408" y1="286.6" x2="444.2" y2="286.6" stroke="#111" stroke-width="1.5" />
<polygon points="425.8,279.6 426.36,280.73 427.61,280.91 426.7,281.79 426.92,283.04 425.8,282.45 424.68,283.04 424.9,281.79 423.99,280.91 425.24,280.73" fill="#000" stroke="#000" stroke-width="0.35" stroke-linejoin="round"/>
<text x="338.8" y="320.2" font-size="11.4" text-anchor="middle" textLength="96" lengthAdjust="spacingAndGlyphs" transform="rotate(-90 338.8 320.2)" fill="#222" stroke="#222" stroke-width="0.12" >Arginase activity (UL<tspan font-size="7.6" dy="-4" stroke-width="0.4">-1</tspan><tspan dy="4">)</tspan></text>
<text x="373.5" y="400.8" font-size="8.6" text-anchor="middle" fill="#222" stroke="#222" stroke-width="0.25" >-</text>
<text x="409.4" y="400.8" font-size="8.6" text-anchor="middle" fill="#222" stroke="#222" stroke-width="0.25" >-</text>
<text x="445.2" y="400.8" font-size="8.6" text-anchor="middle" textLength="28.1" lengthAdjust="spacingAndGlyphs" fill="#222" stroke="#222" stroke-width="0.25" >&#945;CD18</text>
<text x="480.5" y="400.8" font-size="8.6" text-anchor="middle" fill="#222" stroke="#222" stroke-width="0.25" >IgG</text>
<text x="148.3" y="430.6" font-size="13" font-weight="bold" fill="#000" stroke="#000" stroke-width="0.35" >E</text>
<rect x="215.55" y="442.95" width="4.3" height="4.3" fill="none" stroke="#8a2745" stroke-width="1.4"/>
<text x="222.8" y="447.9" font-size="8.2" textLength="63" lengthAdjust="spacingAndGlyphs" fill="#222" stroke="#222" stroke-width="0.25" >HD CD10<tspan font-size="5.6" dy="-3.2">+</tspan><tspan dy="3.2">-NDNs</tspan></text>
<circle cx="299.2" cy="445.1" r="1.95" fill="none" stroke="#303c62" stroke-width="1.25"/>
<text x="304.9" y="447.9" font-size="8.2" textLength="63" lengthAdjust="spacingAndGlyphs" fill="#222" stroke="#222" stroke-width="0.25" >GD CD10<tspan font-size="5.6" dy="-3.2">+</tspan><tspan dy="3.2">-NDNs</tspan></text>
<line x1="211.9" y1="453.8" x2="211.9" y2="600.5" stroke="#262626" stroke-width="1.9" />
<line x1="208.5" y1="456.5" x2="211.9" y2="456.5" stroke="#262626" stroke-width="1.3" />
<text x="205.5" y="459.4" font-size="8.8" text-anchor="end" fill="#222" stroke="#222" stroke-width="0.25" >100</text>
<line x1="208.5" y1="491.4" x2="211.9" y2="491.4" stroke="#262626" stroke-width="1.3" />
<text x="205.5" y="494.3" font-size="8.8" text-anchor="end" fill="#222" stroke="#222" stroke-width="0.25" >50</text>
<line x1="208.5" y1="561.7" x2="211.9" y2="561.7" stroke="#262626" stroke-width="1.3" />
<text x="205.5" y="564.6" font-size="8.8" text-anchor="end" fill="#222" stroke="#222" stroke-width="0.25" >-50</text>
<line x1="208.5" y1="596.6" x2="211.9" y2="596.6" stroke="#262626" stroke-width="1.3" />
<text x="205.5" y="599.5" font-size="8.8" text-anchor="end" fill="#222" stroke="#222" stroke-width="0.25" >-100</text>
<line x1="175.1" y1="526.9" x2="377" y2="526.9" stroke="#262626" stroke-width="1.9" />
<line x1="294" y1="458" x2="294" y2="612.5" stroke="#111" stroke-width="1.4" stroke-dasharray="2.3 1.93"/>
<rect x="230.45" y="510.45" width="4.5" height="4.5" fill="none" stroke="#8a2745" stroke-width="1.45"/>
<rect x="222.75" y="525.25" width="4.5" height="4.5" fill="none" stroke="#8a2745" stroke-width="1.45"/>
<rect x="230.45" y="525.85" width="4.5" height="4.5" fill="none" stroke="#8a2745" stroke-width="1.45"/>
<rect x="222.75" y="539.65" width="4.5" height="4.5" fill="none" stroke="#8a2745" stroke-width="1.45"/>
<rect x="234.25" y="539.65" width="4.5" height="4.5" fill="none" stroke="#8a2745" stroke-width="1.45"/>
<rect x="230.45" y="545.85" width="4.5" height="4.5" fill="none" stroke="#8a2745" stroke-width="1.45"/>
<rect x="237.75" y="545.05" width="4.5" height="4.5" fill="none" stroke="#8a2745" stroke-width="1.45"/>
<rect x="271.45" y="500.25" width="4.5" height="4.5" fill="none" stroke="#8a2745" stroke-width="1.45"/>
<rect x="271.45" y="528.55" width="4.5" height="4.5" fill="none" stroke="#8a2745" stroke-width="1.45"/>
<rect x="271.45" y="543.95" width="4.5" height="4.5" fill="none" stroke="#8a2745" stroke-width="1.45"/>
<rect x="278.55" y="543.15" width="4.5" height="4.5" fill="none" stroke="#8a2745" stroke-width="1.45"/>
<rect x="271.45" y="572.75" width="4.5" height="4.5" fill="none" stroke="#8a2745" stroke-width="1.45"/>
<rect x="271.45" y="580.05" width="4.5" height="4.5" fill="none" stroke="#8a2745" stroke-width="1.45"/>
<rect x="278.55" y="578.55" width="4.5" height="4.5" fill="none" stroke="#8a2745" stroke-width="1.45"/>
<circle cx="306.9" cy="536.2" r="2.2" fill="none" stroke="#303c62" stroke-width="1.25"/>
<circle cx="314.4" cy="541.5" r="2.2" fill="none" stroke="#303c62" stroke-width="1.25"/>
<circle cx="314.4" cy="556.3" r="2.2" fill="none" stroke="#303c62" stroke-width="1.25"/>
<circle cx="314.5" cy="576.4" r="2.2" fill="none" stroke="#303c62" stroke-width="1.25"/>
<circle cx="306.9" cy="580.2" r="2.2" fill="none" stroke="#303c62" stroke-width="1.25"/>
<circle cx="322.3" cy="584" r="2.2" fill="none" stroke="#303c62" stroke-width="1.25"/>
<circle cx="314.5" cy="586.5" r="2.2" fill="none" stroke="#303c62" stroke-width="1.25"/>
<circle cx="355.4" cy="499.6" r="2.2" fill="none" stroke="#303c62" stroke-width="1.25"/>
<circle cx="355.5" cy="545.3" r="2.2" fill="none" stroke="#303c62" stroke-width="1.25"/>
<circle cx="348.1" cy="576.4" r="2.2" fill="none" stroke="#303c62" stroke-width="1.25"/>
<circle cx="355.5" cy="578.1" r="2.2" fill="none" stroke="#303c62" stroke-width="1.25"/>
<circle cx="348.1" cy="585.5" r="2.2" fill="none" stroke="#303c62" stroke-width="1.25"/>
<circle cx="355.5" cy="591.4" r="2.2" fill="none" stroke="#303c62" stroke-width="1.25"/>
<circle cx="362.9" cy="590.3" r="2.2" fill="none" stroke="#303c62" stroke-width="1.25"/>
<line x1="219.2" y1="541.9" x2="246.2" y2="541.9" stroke="#111" stroke-width="1.5" />
<line x1="260.6" y1="546.3" x2="287.5" y2="546.3" stroke="#111" stroke-width="1.5" />
<line x1="300.5" y1="577" x2="328.2" y2="577" stroke="#111" stroke-width="1.5" />
<line x1="342" y1="578" x2="369.9" y2="578" stroke="#111" stroke-width="1.5" />
<text x="169.5" y="527.9" font-size="11.4" text-anchor="middle" textLength="110" lengthAdjust="spacingAndGlyphs" transform="rotate(-90 169.5 527.9)" fill="#222" stroke="#222" stroke-width="0.12" >T lymphocyte proliferation</text>
<text x="182.7" y="490" font-size="8.6" text-anchor="middle" textLength="47.7" lengthAdjust="spacingAndGlyphs" transform="rotate(-90 182.7 490)" fill="#222" stroke="#222" stroke-width="0.25" >(% increase)</text>
<text x="182.7" y="563.3" font-size="8.6" text-anchor="middle" textLength="52.6" lengthAdjust="spacingAndGlyphs" transform="rotate(-90 182.7 563.3)" fill="#222" stroke="#222" stroke-width="0.25" >(% decrease)</text>
<text x="232.5" y="611.6" font-size="8.6" text-anchor="middle" fill="#222" stroke="#222" stroke-width="0.25" >-</text>
<text x="273.5" y="611.6" font-size="8.6" text-anchor="middle" fill="#222" stroke="#222" stroke-width="0.25" >catalase</text>
<text x="314.8" y="611.6" font-size="8.6" text-anchor="middle" fill="#222" stroke="#222" stroke-width="0.25" >-</text>
<text x="355.3" y="611.6" font-size="8.6" text-anchor="middle" fill="#222" stroke="#222" stroke-width="0.25" >catalase</text>
</svg>
</body></html>
